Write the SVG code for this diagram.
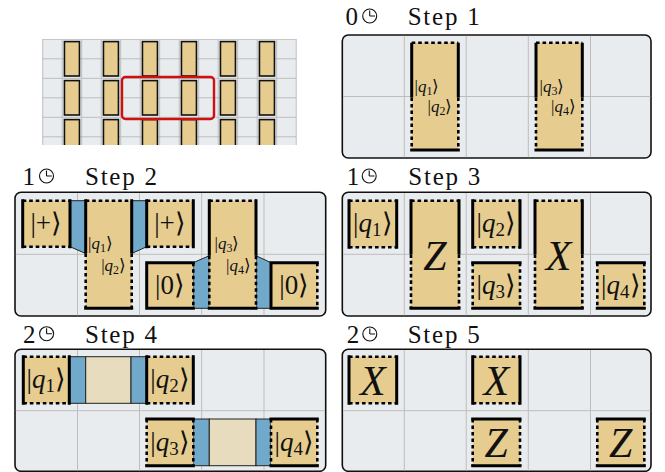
<svg xmlns="http://www.w3.org/2000/svg" width="665" height="472" viewBox="0 0 665 472" font-family="Liberation Serif">
<style>
.bg{fill:#fff}
.panel{fill:#e9ecee;stroke:#111;stroke-width:1.6}
.gl{stroke:#bdbdbd;stroke-width:1;fill:none}
.tan{fill:#e6cd8f}
.blue{fill:#70a9c9;stroke:#222;stroke-width:1}
.beige{fill:#e8dcbf;stroke:#222;stroke-width:1}
.s{stroke:#000;stroke-width:3;fill:none}
.d{stroke:#000;stroke-width:2.6;stroke-dasharray:3.6 2.9;fill:none}
.bar{fill:#e6cd8f;stroke:#111;stroke-width:1.6}
.red{fill:none;stroke:#d01010;stroke-width:2.4}
text{fill:#111}
.lbl{font-size:25px}
.i{font-style:italic}
.ks{font-size:17px}
.km{font-size:27px}
.kl{font-size:42px;font-style:italic}
.clk{fill:none;stroke:#111;stroke-width:1.1}
</style>
<defs>
<clipPath id="mini"><rect x="42" y="39" width="255" height="106"/></clipPath>
</defs>
<rect class="bg" x="0" y="0" width="665" height="472"/>

<g id="overview" clip-path="url(#mini)">
<rect x="42.7" y="39.3" width="253.5" height="110" fill="#e9ecee"/>
<g class="gl">
<path d="M42.7 39v110M62.2 39v110M81.7 39v110M101.2 39v110M120.7 39v110M140.2 39v110M159.7 39v110M179.2 39v110M198.7 39v110M218.2 39v110M237.7 39v110M257.2 39v110M276.7 39v110M296.2 39v110"/>
<path d="M42.7 39.3h253.5M42.7 58.8h253.5M42.7 78.3h253.5M42.7 97.8h253.5M42.7 117.3h253.5M42.7 136.8h253.5"/>
</g>
<g>
<rect class="bar" x="64.45" y="41.6" width="15" height="34.4"/><rect class="bar" x="103.45" y="41.6" width="15" height="34.4"/><rect class="bar" x="142.45" y="41.6" width="15" height="34.4"/><rect class="bar" x="181.45" y="41.6" width="15" height="34.4"/><rect class="bar" x="220.45" y="41.6" width="15" height="34.4"/><rect class="bar" x="259.45" y="41.6" width="15" height="34.4"/>
<rect class="bar" x="64.45" y="80.6" width="15" height="34.4"/><rect class="bar" x="103.45" y="80.6" width="15" height="34.4"/><rect class="bar" x="142.45" y="80.6" width="15" height="34.4"/><rect class="bar" x="181.45" y="80.6" width="15" height="34.4"/><rect class="bar" x="220.45" y="80.6" width="15" height="34.4"/><rect class="bar" x="259.45" y="80.6" width="15" height="34.4"/>
<rect class="bar" x="64.45" y="119.6" width="15" height="34.4"/><rect class="bar" x="103.45" y="119.6" width="15" height="34.4"/><rect class="bar" x="142.45" y="119.6" width="15" height="34.4"/><rect class="bar" x="181.45" y="119.6" width="15" height="34.4"/><rect class="bar" x="220.45" y="119.6" width="15" height="34.4"/><rect class="bar" x="259.45" y="119.6" width="15" height="34.4"/>
</g>
<rect class="red" x="122" y="77" width="92" height="42" rx="3.5"/>
</g>

<!-- Step labels -->
<g id="label1">
<text class="lbl" x="345.5" y="25">0</text>
<circle class="clk" cx="369.7" cy="16" r="7"/><path class="clk" d="M369.7 16V10.5M369.7 16H375"/>
<text class="lbl" x="407.7" y="25" textLength="72" lengthAdjust="spacing">Step 1</text>
</g>
<g id="label2">
<text class="lbl" x="22.5" y="185">1</text>
<circle class="clk" cx="46.5" cy="176" r="7"/><path class="clk" d="M46.5 176V170.5M46.5 176H51.8"/>
<text class="lbl" x="85" y="185" textLength="72" lengthAdjust="spacing">Step 2</text>
</g>
<g id="label3">
<text class="lbl" x="346.8" y="185">1</text>
<circle class="clk" cx="369.2" cy="176" r="7"/><path class="clk" d="M369.2 176V170.5M369.2 176H374.5"/>
<text class="lbl" x="408.3" y="185" textLength="72" lengthAdjust="spacing">Step 3</text>
</g>
<g id="label4">
<text class="lbl" x="23" y="342.7">2</text>
<circle class="clk" cx="46.6" cy="333.7" r="7"/><path class="clk" d="M46.6 333.7V328.2M46.6 333.7H51.9"/>
<text class="lbl" x="85" y="342.7" textLength="72" lengthAdjust="spacing">Step 4</text>
</g>
<g id="label5">
<text class="lbl" x="346.7" y="343">2</text>
<circle class="clk" cx="369.8" cy="334" r="7"/><path class="clk" d="M369.8 334V328.5M369.8 334H375.1"/>
<text class="lbl" x="407.7" y="343" textLength="72" lengthAdjust="spacing">Step 5</text>
</g>

<!-- Step 1 -->
<g id="step1">
<rect class="panel" x="342.3" y="35" width="308.7" height="123" rx="6"/>
<path class="gl" d="M404.3 35.8v121.4M466.2 35.8v121.4M528.3 35.8v121.4M590.5 35.8v121.4M343 96.5h307.3"/>
<g id="s1-boxA">
<rect class="tan" x="411.7" y="42.7" width="46.6" height="107.3"/>
<path class="d" d="M411.7 42.7H458.3M411.7 97.5V150M458.3 97.5V150"/>
<path class="s" d="M411.7 42.7V97.5M458.3 42.7V97.5M410.2 150H459.8"/>
<text class="ks" x="414.5" y="91.5">|<tspan class="i">q</tspan><tspan font-size="12" dy="3">1</tspan><tspan dy="-3">⟩</tspan></text>
<text class="ks" x="427.5" y="111.5">|<tspan class="i">q</tspan><tspan font-size="12" dy="3">2</tspan><tspan dy="-3">⟩</tspan></text>
</g>
<g id="s1-boxB">
<rect class="tan" x="536" y="42.7" width="46.3" height="107.3"/>
<path class="d" d="M536 42.7H582.3M536 97.5V150M582.3 97.5V150"/>
<path class="s" d="M536 42.7V97.5M582.3 42.7V97.5M534.5 150H583.8"/>
<text class="ks" x="539.5" y="91.5">|<tspan class="i">q</tspan><tspan font-size="12" dy="3">3</tspan><tspan dy="-3">⟩</tspan></text>
<text class="ks" x="551" y="111.5">|<tspan class="i">q</tspan><tspan font-size="12" dy="3">4</tspan><tspan dy="-3">⟩</tspan></text>
</g>
</g>

<!-- Step 2 -->
<g id="step2">
<rect class="panel" x="15" y="192.3" width="310.7" height="123.7" rx="6"/>
<path class="gl" d="M77.5 193v122.3M139.5 193v122.3M201.7 193v122.3M264 193v122.3M15.8 254.3h309.1"/>
<polygon class="blue" points="70,200.7 85.7,200.7 85.7,253.5 70,246.7"/>
<polygon class="blue" points="131.7,200.7 146.7,200.7 146.7,246.7 131.7,253.5"/>
<polygon class="blue" points="193.3,262.7 209.3,255.7 209.3,308.3 193.3,308.3"/>
<polygon class="blue" points="256,255.7 271,262.7 271,308.3 256,308.3"/>
<g id="s2-plus1">
<rect class="tan" x="22.7" y="200.7" width="47.3" height="46"/>
<path class="d" d="M22.7 200.7H70M22.7 246.7H70"/>
<path class="s" d="M22.7 199.2V248.2M70 199.2V248.2"/>
<text class="km" x="46.3" y="232" text-anchor="middle">|+⟩</text>
</g>
<g id="s2-big1">
<rect class="tan" x="85.7" y="200.7" width="46" height="107.6"/>
<path class="d" d="M85.7 200.7H131.7M85.7 253.5V308.3M131.7 253.5V308.3"/>
<path class="s" d="M85.7 199.2V253.5M131.7 199.2V253.5M84.2 308.3H133.2"/>
<text class="ks" x="88" y="249">|<tspan class="i">q</tspan><tspan font-size="12" dy="3">1</tspan><tspan dy="-3">⟩</tspan></text>
<text class="ks" x="101.2" y="270.5">|<tspan class="i">q</tspan><tspan font-size="12" dy="3">2</tspan><tspan dy="-3">⟩</tspan></text>
</g>
<g id="s2-plus2">
<rect class="tan" x="146.7" y="200.7" width="46.6" height="46"/>
<path class="d" d="M146.7 200.7H193.3M146.7 246.7H193.3"/>
<path class="s" d="M146.7 199.2V248.2M193.3 199.2V248.2"/>
<text class="km" x="170" y="232" text-anchor="middle">|+⟩</text>
</g>
<g id="s2-zero1">
<rect class="tan" x="146.7" y="262.7" width="46.6" height="45.6"/>
<path class="d" d="M193.3 262.7V308.3"/>
<path class="s" d="M146.7 261.2V309.8M145.2 262.7H194.8M145.2 308.3H194.8"/>
<text class="km" x="170" y="294" text-anchor="middle">|0⟩</text>
</g>
<g id="s2-big2">
<rect class="tan" x="209.3" y="200.7" width="46.7" height="107.6"/>
<path class="d" d="M209.3 200.7H256M209.3 255.7V308.3M256 255.7V308.3"/>
<path class="s" d="M209.3 199.2V255.7M256 199.2V255.7M207.8 308.3H257.5"/>
<text class="ks" x="214.5" y="249">|<tspan class="i">q</tspan><tspan font-size="12" dy="3">3</tspan><tspan dy="-3">⟩</tspan></text>
<text class="ks" x="226" y="270.5">|<tspan class="i">q</tspan><tspan font-size="12" dy="3">4</tspan><tspan dy="-3">⟩</tspan></text>
</g>
<g id="s2-zero2">
<rect class="tan" x="271" y="262.7" width="46.3" height="45.6"/>
<path class="d" d="M317.3 262.7V308.3"/>
<path class="s" d="M271 261.2V309.8M269.5 262.7H318.8M269.5 308.3H318.8"/>
<text class="km" x="294.2" y="294" text-anchor="middle">|0⟩</text>
</g>
</g>

<!-- Step 3 -->
<g id="step3">
<rect class="panel" x="342.3" y="192.3" width="308.7" height="123.7" rx="6"/>
<path class="gl" d="M404.3 193v122.3M466.2 193v122.3M528.3 193v122.3M590.5 193v122.3M343 254.3h307.3"/>
<g id="s3-q1">
<rect class="tan" x="349" y="200.7" width="47.7" height="46.6"/>
<path class="d" d="M349 200.7H396.7M349 247.3H396.7"/>
<path class="s" d="M349 199.2V248.8M396.7 199.2V248.8"/>
<text class="km" x="372.8" y="232" text-anchor="middle">|<tspan class="i">q</tspan><tspan font-size="19" dy="4">1</tspan><tspan dy="-4">⟩</tspan></text>
</g>
<g id="s3-Z">
<rect class="tan" x="411" y="200.7" width="48" height="107.6"/>
<path class="d" d="M411 200.7H459M411 254.3V308.3M459 254.3V308.3"/>
<path class="s" d="M411 199.2V254.3M459 199.2V254.3M409.5 308.3H460.5"/>
<text class="kl" x="435" y="270" text-anchor="middle">Z</text>
</g>
<g id="s3-q2">
<rect class="tan" x="472.7" y="200.7" width="47.3" height="46.6"/>
<path class="d" d="M472.7 200.7H520M472.7 247.3H520"/>
<path class="s" d="M472.7 199.2V248.8M520 199.2V248.8"/>
<text class="km" x="496.3" y="232" text-anchor="middle">|<tspan class="i">q</tspan><tspan font-size="19" dy="4">2</tspan><tspan dy="-4">⟩</tspan></text>
</g>
<g id="s3-q3">
<rect class="tan" x="472.7" y="262.7" width="47.3" height="45.6"/>
<path class="d" d="M472.7 262.7V308.3M520 262.7V308.3"/>
<path class="s" d="M471.2 262.7H521.5M471.2 308.3H521.5"/>
<text class="km" x="496.3" y="294" text-anchor="middle">|<tspan class="i">q</tspan><tspan font-size="19" dy="4">3</tspan><tspan dy="-4">⟩</tspan></text>
</g>
<g id="s3-X">
<rect class="tan" x="535" y="200.7" width="47.3" height="107.6"/>
<path class="d" d="M535 200.7H582.3M535 254.3V308.3M582.3 254.3V308.3"/>
<path class="s" d="M535 199.2V254.3M582.3 199.2V254.3M533.5 308.3H583.8"/>
<text class="kl" x="558.7" y="270" text-anchor="middle">X</text>
</g>
<g id="s3-q4">
<rect class="tan" x="597.3" y="262.7" width="47" height="45.6"/>
<path class="d" d="M597.3 262.7V308.3M644.3 262.7V308.3"/>
<path class="s" d="M595.8 262.7H645.8M595.8 308.3H645.8"/>
<text class="km" x="620.8" y="294" text-anchor="middle">|<tspan class="i">q</tspan><tspan font-size="19" dy="4">4</tspan><tspan dy="-4">⟩</tspan></text>
</g>
</g>

<!-- Step 4 -->
<g id="step4">
<rect class="panel" x="15" y="349.3" width="310.7" height="122" rx="6"/>
<path class="gl" d="M77.5 350v120.6M139.5 350v120.6M201.7 350v120.6M264 350v120.6M15.8 410.7h309.1"/>
<g id="s4-gate1">
<rect class="blue" x="69.3" y="356.7" width="16.4" height="46.6"/>
<rect class="beige" x="85.7" y="356.7" width="45.3" height="46.6"/>
<rect class="blue" x="131" y="356.7" width="15.7" height="46.6"/>
</g>
<g id="s4-gate2">
<rect class="blue" x="193.3" y="419" width="16" height="46.7"/>
<rect class="beige" x="209.3" y="419" width="46.7" height="46.7"/>
<rect class="blue" x="256" y="419" width="15" height="46.7"/>
</g>
<g id="s4-q1">
<rect class="tan" x="23.3" y="356.7" width="46" height="46.6"/>
<path class="d" d="M23.3 356.7H69.3M23.3 403.3H69.3"/>
<path class="s" d="M23.3 355.2V404.8M69.3 355.2V404.8"/>
<text class="km" x="46.3" y="388" text-anchor="middle">|<tspan class="i">q</tspan><tspan font-size="19" dy="4">1</tspan><tspan dy="-4">⟩</tspan></text>
</g>
<g id="s4-q2">
<rect class="tan" x="146.7" y="356.7" width="46.6" height="46.6"/>
<path class="d" d="M146.7 356.7H193.3M146.7 403.3H193.3"/>
<path class="s" d="M146.7 355.2V404.8M193.3 355.2V404.8"/>
<text class="km" x="170" y="388" text-anchor="middle">|<tspan class="i">q</tspan><tspan font-size="19" dy="4">2</tspan><tspan dy="-4">⟩</tspan></text>
</g>
<g id="s4-q3">
<rect class="tan" x="146.7" y="419" width="46.6" height="46.7"/>
<path class="d" d="M146.7 419V465.7M193.3 419V465.7"/>
<path class="s" d="M145.2 419H194.8M145.2 465.7H194.8"/>
<text class="km" x="170" y="450.5" text-anchor="middle">|<tspan class="i">q</tspan><tspan font-size="19" dy="4">3</tspan><tspan dy="-4">⟩</tspan></text>
</g>
<g id="s4-q4">
<rect class="tan" x="271" y="419" width="46.3" height="46.7"/>
<path class="d" d="M271 419V465.7M317.3 419V465.7"/>
<path class="s" d="M269.5 419H318.8M269.5 465.7H318.8"/>
<text class="km" x="294.2" y="450.5" text-anchor="middle">|<tspan class="i">q</tspan><tspan font-size="19" dy="4">4</tspan><tspan dy="-4">⟩</tspan></text>
</g>
</g>

<!-- Step 5 -->
<g id="step5">
<rect class="panel" x="342.3" y="349.3" width="308.7" height="122" rx="6"/>
<path class="gl" d="M404.3 350v120.6M466.2 350v120.6M528.3 350v120.6M590.5 350v120.6M343 410.7h307.3"/>
<g id="s5-X1">
<rect class="tan" x="349" y="356.7" width="47.7" height="46.6"/>
<path class="d" d="M349 356.7H396.7M349 403.3H396.7"/>
<path class="s" d="M349 355.2V404.8M396.7 355.2V404.8"/>
<text class="kl" x="372.8" y="395" text-anchor="middle">X</text>
</g>
<g id="s5-X2">
<rect class="tan" x="472.7" y="356.7" width="47.3" height="46.6"/>
<path class="d" d="M472.7 356.7H520M472.7 403.3H520"/>
<path class="s" d="M472.7 355.2V404.8M520 355.2V404.8"/>
<text class="kl" x="496.3" y="395" text-anchor="middle">X</text>
</g>
<g id="s5-Z1">
<rect class="tan" x="472.7" y="419" width="47.3" height="46.7"/>
<path class="d" d="M472.7 419V465.7M520 419V465.7"/>
<path class="s" d="M471.2 419H521.5M471.2 465.7H521.5"/>
<text class="kl" x="496.3" y="457" text-anchor="middle">Z</text>
</g>
<g id="s5-Z2">
<rect class="tan" x="597.3" y="419" width="47" height="46.7"/>
<path class="d" d="M597.3 419V465.7M644.3 419V465.7"/>
<path class="s" d="M595.8 419H645.8M595.8 465.7H645.8"/>
<text class="kl" x="620.8" y="457" text-anchor="middle">Z</text>
</g>
</g>
</svg>
